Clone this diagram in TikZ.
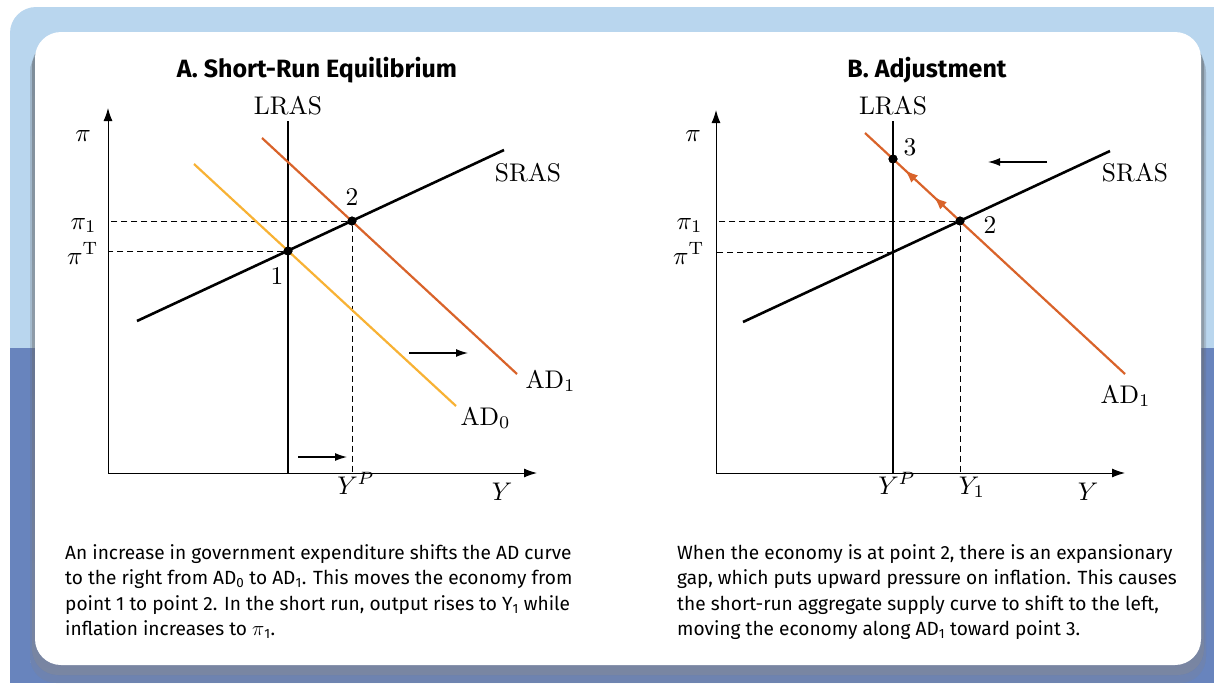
\documentclass[tikz,border=0pt]{standalone}
\usepackage{fontspec}
\setsansfont{Fira Sans}
\usepackage{amsmath}
\usetikzlibrary{arrows.meta,decorations.markings}

\definecolor{skyband}{RGB}{185,214,238}
\definecolor{seaband}{RGB}{104,132,189}
\definecolor{shade}{RGB}{48,72,125}
\definecolor{adlow}{RGB}{248,178,52}
\definecolor{adhigh}{RGB}{217,99,42}

\tikzset{
  axis/.style={line width=1pt,{Latex[length=13pt,width=9pt]}-{Latex[length=13pt,width=9pt]}},
  curve/.style={line width=2.6pt},
  guide/.style={line width=0.9pt,dash pattern=on 6pt off 4pt},
  movearrow/.style={line width=1.3pt,-{Latex[length=12pt,width=8pt]}},
  dot/.style={circle,fill,inner sep=0pt,minimum size=9pt},
  lbl/.style={font=\normalsize,scale=2.55,inner sep=0pt},
  caption/.style={font=\sffamily\fontsize{19.1}{25.5}\selectfont,align=left,anchor=base west,inner sep=0pt},
  heading/.style={font=\sffamily\bfseries\fontsize{25}{28}\selectfont,inner sep=0pt,anchor=base}
}

\begin{document}
\begin{tikzpicture}[x=1pt,y=-1pt]
\useasboundingbox (0,0) rectangle (1214,683);
% frame
\begin{scope}
  \clip[rounded corners=26pt] (10,7) rectangle (1250,720);
  \fill[skyband] (0,0) rectangle (1214,348);
  \fill[seaband] (0,348) rectangle (1214,683);
\end{scope}
\fill[shade,opacity=0.12,rounded corners=26pt] (30,46) rectangle (1206,683);
\fill[shade,opacity=0.2,rounded corners=26pt] (32,40) rectangle (1204,675);
\fill[white,rounded corners=26pt] (35,32) rectangle (1201,665);

% panel A
\node[heading] (titleA) at (317,77) {A. Short-Run Equilibrium};
\coordinate (oA) at (108,473);
\coordinate (yA) at (108,108);
\coordinate (xA) at (537,473);
\coordinate (lrasAtop) at (288,121);
\coordinate (srasA1) at (137,321);
\coordinate (srasA2) at (504,150);
\coordinate (adzA1) at (194,164);
\coordinate (adzA2) at (456,406);
\coordinate (adoA1) at (262,138);
\coordinate (adoA2) at (517,374);
\node[dot] (e1A) at (288,251) {};
\node[dot] (e2A) at (352,221) {};
\draw[guide] (e2A) -- (e2A -| oA);
\draw[guide] (e1A) -- (e1A -| oA);
\draw[guide] (e2A) -- (e2A |- oA);
\draw[axis] (yA) -- (oA) -- (xA);
\draw[curve] (lrasAtop) -- (lrasAtop |- oA);
\draw[line width=2.2pt,adlow] (adzA1) -- (adzA2);
\draw[line width=2.2pt,adhigh] (adoA1) -- (adoA2);
\draw[curve] (srasA1) -- (srasA2);
\node[dot] at (e1A) {};
\node[dot] at (e2A) {};
\node[lbl,anchor=base] (piA) at (83,141) {$\pi$};
\node[lbl,anchor=base east] (pioA) at (97,229) {$\pi_1$};
\node[lbl,anchor=base east] (pitA) at (99,264) {$\pi^{\mathrm{T}}$};
\node[lbl,anchor=base] (lrasA) at (288,114) {LRAS};
\node[lbl,anchor=base] (srasA) at (528,181) {SRAS};
\node[lbl,anchor=base west] (adoA) at (525,388) {AD$_1$};
\node[lbl,anchor=base west] (adzA) at (460,425) {AD$_0$};
\node[lbl,anchor=base] (nA1) at (277,284) {1};
\node[lbl,anchor=base] (nA2) at (352,205) {2};
\node[lbl,anchor=base] (ypA) at (356,494) {$Y^P$};
\node[lbl,anchor=base] (yyA) at (502,500) {$Y$};
\coordinate (mvA1) at (409,353);
\coordinate (mvA2) at (468,353);
\coordinate (mvA3) at (298,457);
\coordinate (mvA4) at (347,457);
\draw[movearrow] (mvA1) -- (mvA2);
\draw[movearrow] (mvA3) -- (mvA4);
\node[caption] (capA) at (65,635.5) {An increase in government expenditure shifts the AD curve\\
to the right from AD\textsubscript{0} to AD\textsubscript{1}. This moves the economy from\\
point 1 to point 2. In the short run, output rises to Y\textsubscript{1} while\\
inflation increases to $\pi$\textsubscript{1}.};

% panel B
\node[heading] (titleB) at (927,77) {B. Adjustment};
\coordinate (oB) at (716,473);
\coordinate (yB) at (716,110);
\coordinate (xB) at (1125,473);
\coordinate (lrasBtop) at (893,121);
\coordinate (srasB1) at (743,322);
\coordinate (srasB2) at (1110,151);
\coordinate (adoB1) at (1125,374);
\coordinate (adoB2) at (865,133);
\coordinate (kB) at (893,252);
\node[dot] (e2B) at (960,221) {};
\node[dot] (e3B) at (893,159) {};
\draw[guide] (e2B) -- (e2B -| oB);
\draw[guide] (kB) -- (kB -| oB);
\draw[guide] (e2B) -- (e2B |- oB);
\draw[axis] (yB) -- (oB) -- (xB);
\draw[curve] (lrasBtop) -- (lrasBtop |- oB);
\draw[line width=2.2pt,adhigh,postaction={decorate},
  decoration={markings,
    mark=at position 0.735 with {\arrow{Latex[length=13pt,width=10pt]}},
    mark=at position 0.846 with {\arrow{Latex[length=13pt,width=10pt]}}}]
  (adoB1) -- (adoB2);
\draw[curve] (srasB1) -- (srasB2);
\node[dot] at (e2B) {};
\node[dot] at (e3B) {};
\node[lbl,anchor=base] (piB) at (693,141) {$\pi$};
\node[lbl,anchor=base east] (pioB) at (703,229) {$\pi_1$};
\node[lbl,anchor=base east] (pitB) at (705,264) {$\pi^{\mathrm{T}}$};
\node[lbl,anchor=base] (lrasB) at (893,114) {LRAS};
\node[lbl,anchor=base] (srasB) at (1135,181) {SRAS};
\node[lbl,anchor=base west] (adoB) at (1100,403) {AD$_1$};
\node[lbl,anchor=base] (nB3) at (910,155) {3};
\node[lbl,anchor=base] (nB2) at (990,233) {2};
\node[lbl,anchor=base] (ypB) at (897,494) {$Y^P$};
\node[lbl,anchor=base] (yoB) at (972,494) {$Y_1$};
\node[lbl,anchor=base] (yyB) at (1088,500) {$Y$};
\coordinate (mvB1) at (1047,162);
\coordinate (mvB2) at (988,162);
\draw[movearrow] (mvB1) -- (mvB2);
\node[caption] (capB) at (677,635.5) {When the economy is at point 2, there is an expansionary\\
gap, which puts upward pressure on inflation. This causes\\
the short-run aggregate supply curve to shift to the left,\\
moving the economy along AD\textsubscript{1} toward point 3.};
\end{tikzpicture}
\end{document}
